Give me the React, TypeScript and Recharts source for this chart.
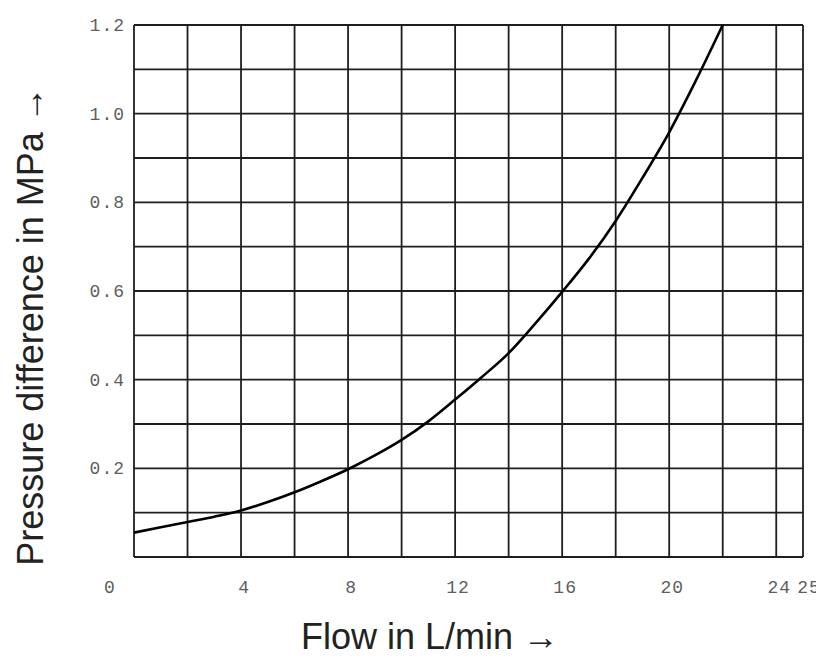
import React from "react";
import { LineChart, Line, XAxis, YAxis, CartesianGrid, Label } from "recharts";

const flow = [0, 1, 2, 3, 4, 5, 6, 7, 8, 9, 10, 11, 12, 13, 14, 15, 16, 17, 18, 19, 20, 21, 22];
const pressure = [
  0.055, 0.067, 0.079, 0.091, 0.105, 0.124, 0.146, 0.171, 0.198, 0.229, 0.264, 0.306,
  0.355, 0.406, 0.46, 0.527, 0.598, 0.673, 0.758, 0.855, 0.958, 1.075, 1.2,
];
const xTicks = [0, 4, 8, 12, 16, 20, 24, 25];
const yTicks = [0.2, 0.4, 0.6, 0.8, 1.0, 1.2];
const xGrid = [0, 2, 4, 6, 8, 10, 12, 14, 16, 18, 20, 22, 24, 25];
const yGrid = [0, 0.1, 0.2, 0.3, 0.4, 0.5, 0.6, 0.7, 0.8, 0.9, 1.0, 1.1, 1.2];
const xTitle = "Flow in L/min \u2192";
const yTitle = "Pressure difference in MPa \u2192";

const data = flow.map((f, i) => ({ flow: f, pressure: pressure[i] }));

const tickFont = {
  fontFamily: "'Liberation Mono', 'DejaVu Sans Mono', monospace",
  fontSize: 18,
  fill: "#5e5e5e",
  letterSpacing: 1,
};

const XTick = (props: any) => {
  const { x, y, payload } = props;
  const v = payload.value;
  const dx = v === 0 ? -24 : v === 25 ? 6 : 3;
  return (
    <text x={x + dx} y={y + 36} textAnchor="middle" {...tickFont}>
      {String(v)}
    </text>
  );
};

const YTick = (props: any) => {
  const { x, y, payload } = props;
  return (
    <text x={x - 9} y={y + 6} textAnchor="end" {...tickFont}>
      {Number(payload.value).toFixed(1)}
    </text>
  );
};

const titleFont = {
  fontFamily: "'Liberation Sans', Arial, sans-serif",
  fontSize: 36,
  fill: "#222",
};

const XTitle = () => (
  <text x={422} y={641} textAnchor="middle" {...titleFont}>
    {xTitle}
  </text>
);

const YTitle = () => (
  <text x={35} y={318} textAnchor="middle" transform="rotate(-90 35 318)" {...titleFont}>
    {yTitle}
  </text>
);

export default function App() {
  return (
    <div style={{ width: 816, height: 654 }}>
      <LineChart
        width={816}
        height={654}
        data={data}
        margin={{ top: 17, right: 21, left: 66, bottom: 45 }}
      >
        <CartesianGrid
          stroke="#1e1e1e"
          strokeWidth={1.8}
          fill="none"
          verticalValues={xGrid}
          horizontalValues={yGrid}
        />
        <XAxis
          dataKey="flow"
          type="number"
          domain={[0, 25]}
          ticks={xTicks}
          interval={0}
          axisLine={false}
          tickLine={false}
          tickSize={0}
          tickMargin={0}
          height={60}
          tick={<XTick />}
        >
          <Label content={<XTitle />} />
        </XAxis>
        <YAxis
          type="number"
          domain={[0, 1.2]}
          ticks={yTicks}
          interval={0}
          axisLine={false}
          tickLine={false}
          tickSize={0}
          tickMargin={0}
          width={60}
          tick={<YTick />}
        >
          <Label content={<YTitle />} />
        </YAxis>
        <Line
          dataKey="pressure"
          type="monotone"
          stroke="#000"
          strokeWidth={2.6}
          dot={false}
          activeDot={false}
          isAnimationActive={false}
        />
      </LineChart>
    </div>
  );
}
